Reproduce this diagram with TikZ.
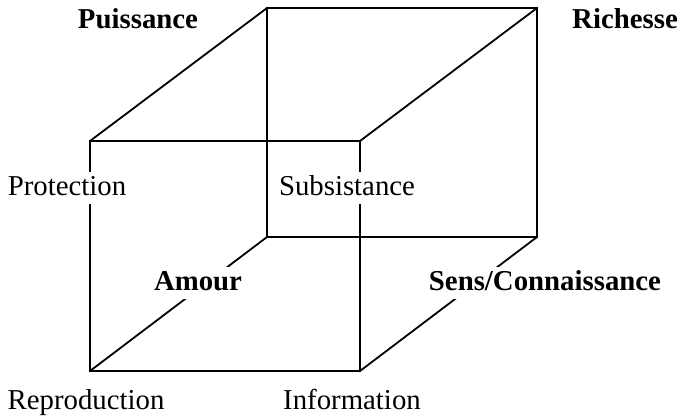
\documentclass[tikz,border=0pt]{standalone}
\usepackage{fontspec}
\setmainfont{Liberation Serif}
\begin{document}
\begin{tikzpicture}[x=1pt,y=-1pt,
  edge/.style={line width=1.8pt,line cap=rect},
  lbl/.style={fill=white,inner xsep=1pt,inner ysep=3pt,anchor=base,
    text height=20pt,text depth=6pt,font=\fontsize{28.8}{30}\selectfont},
  blbl/.style={lbl,font=\fontsize{28.8}{30}\selectfont\bfseries}]
\useasboundingbox (0,0) rectangle (683,418);
\coordinate (ftl) at (90,141);
\coordinate (ftr) at (360,141);
\coordinate (fbl) at (90,371);
\coordinate (fbr) at (360,371);
\coordinate (btl) at (267,8);
\coordinate (btr) at (537,8);
\coordinate (bbl) at (267,237);
\coordinate (bbr) at (537,237);
\draw[edge] (btl) -- (btr) -- (bbr) -- (bbl) -- cycle;
\draw[edge] (ftl) -- (ftr) -- (fbr) -- (fbl) -- cycle;
\draw[edge] (ftl) -- (btl);
\draw[edge] (ftr) -- (btr);
\draw[edge] (fbl) -- (bbl);
\draw[edge] (fbr) -- (bbr);
\node[blbl] (puis) at (138,28) {Puissance};
\node[blbl] (rich) at (625,28) {Richesse};
\node[lbl] (prot) at (67,195) {Protection};
\node[lbl] (subs) at (347,195) {Subsistance};
\node[blbl] (amour) at (198,290) {Amour};
\node[blbl] (sens) at (545,290) {Sens/Connaissance};
\node[lbl] (repr) at (86,409) {Reproduction};
\node[lbl] (info) at (352,409) {Information};
\end{tikzpicture}
\end{document}
